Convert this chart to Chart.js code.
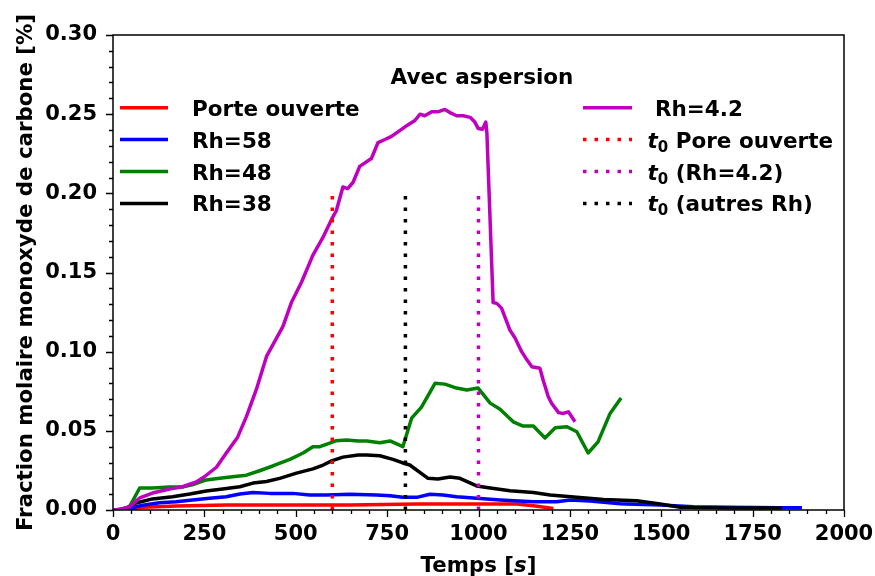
<!DOCTYPE html>
<html>
<head>
<meta charset="utf-8">
<script src="https://cdn.jsdelivr.net/npm/chart.js@4.4.1/dist/chart.umd.min.js"></script>
<style>
  body { margin: 0; background: #fff; }
  #wrap { width: 875px; height: 576px; }
</style>
</head>
<body>
<div id="wrap"><canvas id="chart" width="875" height="576"></canvas></div>
<script>
// CO molar fraction [%] vs time [s], with sprinkling
const tPorte = [0, 35, 81, 173, 310, 447, 648, 831, 1013, 1105, 1150, 1205];
const coPorte = [0, 0.0005, 0.0017, 0.0025, 0.0032, 0.0032, 0.0032, 0.0038, 0.0038, 0.0038, 0.0027, 0.001];

const tRh58 = [0, 35, 81, 127, 173, 218, 264, 310, 347, 383, 429, 492, 538, 584, 648, 721, 758, 793, 831, 867,
  903, 940, 995, 1059, 1150, 1214, 1251, 1305, 1388, 1406, 1497, 1588, 1680, 1826, 1885];
const coRh58 = [0, 0.0005, 0.003, 0.0046, 0.0052, 0.0063, 0.0074, 0.0084, 0.0101, 0.011, 0.0105, 0.0105, 0.0095,
  0.0095, 0.0099, 0.0095, 0.009, 0.008, 0.008, 0.0099, 0.0095, 0.0084, 0.0074, 0.0063, 0.0052, 0.0052, 0.0063,
  0.0057, 0.004, 0.0038, 0.0032, 0.0021, 0.0017, 0.0015, 0.0015];

const tRh48 = [0, 20, 45, 73, 108, 155, 190, 219, 255, 292, 327, 365, 401, 437, 484, 520, 547, 566, 593, 611,
  639, 671, 694, 730, 758, 793, 817, 844, 881, 908, 940, 968, 999, 1032, 1059, 1095, 1122, 1150, 1182, 1210,
  1242, 1269, 1300, 1327, 1360, 1390];
const coRh48 = [0, 0.0003, 0.002, 0.0139, 0.0139, 0.0145, 0.0145, 0.016, 0.019, 0.02, 0.021, 0.022, 0.0248, 0.0278,
  0.032, 0.036, 0.04, 0.04, 0.0423, 0.0438, 0.0442, 0.0436, 0.0436, 0.0425, 0.0436, 0.04, 0.058, 0.065, 0.08,
  0.0795, 0.077, 0.0758, 0.077, 0.0675, 0.0637, 0.0557, 0.053, 0.053, 0.0455, 0.052, 0.0526, 0.0494, 0.036,
  0.043, 0.061, 0.0707];

const tRh38 = [0, 30, 63, 108, 163, 210, 255, 300, 347, 383, 420, 456, 502, 547, 575, 598, 629, 671, 694, 730,
  766, 793, 812, 862, 889, 922, 949, 995, 1032, 1086, 1150, 1196, 1269, 1342, 1433, 1497, 1552, 1607, 1700, 1830];
const coRh38 = [0, 0.0005, 0.0044, 0.007, 0.0084, 0.0101, 0.012, 0.0133, 0.0147, 0.017, 0.018, 0.02, 0.0233, 0.026,
  0.0284, 0.031, 0.0334, 0.0347, 0.0347, 0.0343, 0.032, 0.0297, 0.0284, 0.02, 0.0196, 0.0208, 0.02, 0.0152,
  0.0139, 0.0122, 0.011, 0.0095, 0.008, 0.0067, 0.0059, 0.0038, 0.0017, 0.0015, 0.0012, 0.0012];

const tRh42 = [0, 20, 45, 73, 108, 155, 190, 228, 250, 283, 310, 341, 365, 392, 420, 465, 488, 516, 547, 574,
  599, 611, 629, 642, 657, 675, 707, 725, 744, 762, 799, 826, 840, 853, 872, 889, 908, 922, 940, 958, 977, 990,
  999, 1011, 1020, 1023, 1040, 1050, 1063, 1086, 1100, 1118, 1132, 1146, 1168, 1177, 1191, 1200, 1219, 1232,
  1246, 1264];
const coRh42 = [0, 0.0005, 0.002, 0.0076, 0.0107, 0.0133, 0.0147, 0.0177, 0.021, 0.027, 0.036, 0.046, 0.059, 0.076,
  0.097, 0.116, 0.131, 0.144, 0.161, 0.172, 0.184, 0.189, 0.204, 0.203, 0.207, 0.217, 0.222, 0.232, 0.234,
  0.236, 0.242, 0.246, 0.25, 0.249, 0.2515, 0.2515, 0.253, 0.251, 0.249, 0.249, 0.248, 0.245, 0.241, 0.2405,
  0.245, 0.238, 0.131, 0.1305, 0.1275, 0.1136, 0.1086, 0.1, 0.095, 0.0905, 0.0895, 0.082, 0.0715, 0.0674,
  0.0615, 0.061, 0.062, 0.0557];

// start-of-sprinkling markers
const t0Times = [600, 1000, 800];
const t0Labels = [' Pore ouverte', ' (Rh=4.2)', ' (autres Rh)'];
const t0Colors = ['#ff0000', '#bf00bf', '#000000'];
const t0Top = 0.20;

const series = [
  { label: 'Porte ouverte', t: tPorte, v: coPorte, color: '#ff0000' },
  { label: 'Rh=58', t: tRh58, v: coRh58, color: '#0000ff' },
  { label: 'Rh=48', t: tRh48, v: coRh48, color: '#008000' },
  { label: 'Rh=38', t: tRh38, v: coRh38, color: '#000000' },
  { label: ' Rh=4.2', t: tRh42, v: coRh42, color: '#bf00bf' },
];

const FONT = 'DejaVu Sans';
const datasets = [];
series.forEach(s => {
  datasets.push({
    label: s.label,
    data: s.t.map((t, i) => ({ x: t, y: s.v[i] })),
    borderColor: s.color,
    borderWidth: 3.5,
    borderJoinStyle: 'round',
    pointRadius: 0,
    tension: 0,
  });
});
t0Times.forEach((t, i) => {
  datasets.push({
    label: t0Labels[i],
    t0: true,
    data: [{ x: t, y: 0 }, { x: t, y: t0Top }],
    borderColor: t0Colors[i],
    borderWidth: 3.5,
    borderDash: [3.5, 8],
    borderCapStyle: 'butt',
    pointRadius: 0,
  });
});
// later datasets go on top
datasets.forEach((d, i) => { d.order = datasets.length - i; });

function drawT0(ctx, x, y, rest) {
  ctx.font = 'italic bold 21.5px "' + FONT + '"';
  ctx.fillText('t', x, y);
  x += ctx.measureText('t').width;
  ctx.font = 'bold 15px "' + FONT + '"';
  ctx.fillText('0', x, y + 4);
  x += ctx.measureText('0').width;
  ctx.font = 'bold 21.5px "' + FONT + '"';
  ctx.fillText(rest, x, y);
}

const decor = {
  id: 'decor',
  afterDraw(chart) {
    const ctx = chart.ctx;
    const { left, right, top, bottom } = chart.chartArea;
    const xs = chart.scales.x, ys = chart.scales.y;
    ctx.save();

    // frame
    ctx.strokeStyle = '#000';
    ctx.lineWidth = 1.5;
    ctx.strokeRect(left, top, right - left, bottom - top);

    // major / minor ticks
    ctx.lineWidth = 1.3;
    ctx.beginPath();
    for (let v = 0; v <= 2000; v += 50) {
      const px = Math.round(xs.getPixelForValue(v)) + 0.5;
      ctx.moveTo(px, bottom);
      ctx.lineTo(px, bottom + (v % 250 === 0 ? 7 : 4));
    }
    for (let i = 0; i <= 30; i++) {
      const py = Math.round(ys.getPixelForValue(i / 100)) + 0.5;
      ctx.moveTo(left, py);
      ctx.lineTo(left - (i % 5 === 0 ? 7 : 4), py);
    }
    ctx.stroke();

    ctx.fillStyle = '#000';
    ctx.textBaseline = 'alphabetic';

    // x axis title
    const bold = 'bold 21.3px "' + FONT + '"';
    const ital = 'italic bold 21.3px "' + FONT + '"';
    ctx.font = bold;
    const w1 = ctx.measureText('Temps [').width;
    const w3 = ctx.measureText(']').width;
    ctx.font = ital;
    const w2 = ctx.measureText('s').width;
    let x = (left + right) / 2 - (w1 + w2 + w3) / 2;
    ctx.textAlign = 'left';
    ctx.font = bold; ctx.fillText('Temps [', x, 572); x += w1;
    ctx.font = ital; ctx.fillText('s', x, 572); x += w2;
    ctx.font = bold; ctx.fillText(']', x, 572);

    // y axis title
    ctx.save();
    ctx.translate(32, (top + bottom) / 2);
    ctx.rotate(-Math.PI / 2);
    ctx.textAlign = 'center';
    ctx.font = bold;
    ctx.fillText('Fraction molaire monoxyde de carbone [%]', 0, 0);
    ctx.restore();

    // legend
    ctx.font = 'bold 21.5px "' + FONT + '"';
    ctx.textAlign = 'center';
    ctx.fillText('Avec aspersion', 482, 83.5);
    ctx.textAlign = 'left';
    const cols = [{ x0: 120, x1: 168, tx: 192 }, { x0: 583, x1: 632, tx: 647.5 }];
    chart.data.datasets.forEach((d, i) => {
      const col = cols[i < 4 ? 0 : 1];
      const row = i < 4 ? i : i - 4;
      const y = 107.7 + row * 31.9;
      ctx.save();
      ctx.strokeStyle = d.borderColor;
      ctx.lineWidth = d.borderWidth;
      ctx.lineCap = 'butt';
      ctx.setLineDash(d.borderDash || []);
      ctx.beginPath();
      ctx.moveTo(col.x0, y);
      ctx.lineTo(col.x1, y);
      ctx.stroke();
      ctx.restore();
      if (d.t0) {
        drawT0(ctx, col.tx, y + 8, d.label);
      } else {
        ctx.font = 'bold 21.5px "' + FONT + '"';
        ctx.fillText(d.label, col.tx, y + 8);
      }
    });
    ctx.restore();
  }
};

const tickFont = { family: FONT, weight: 'bold', size: 21 };

new Chart(document.getElementById('chart'), {
  type: 'line',
  data: { datasets },
  options: {
    responsive: false,
    animation: false,
    layout: { padding: { left: 0, top: 35, right: 31, bottom: 0 } },
    plugins: { legend: { display: false }, tooltip: { enabled: false } },
    scales: {
      x: {
        type: 'linear',
        min: 0,
        max: 2000,
        afterFit: s => { s.height = 66; s.paddingLeft = 0; s.paddingRight = 0; },
        grid: { display: false, drawTicks: false },
        border: { display: false },
        ticks: {
          stepSize: 250, maxRotation: 0, autoSkip: false, padding: 12, color: '#000', font: tickFont,
          callback: v => String(v),
        },
      },
      y: {
        min: 0,
        max: 0.30,
        afterFit: s => { s.width = 113; s.paddingTop = 0; s.paddingBottom = 0; },
        grid: { display: false, drawTicks: false },
        border: { display: false },
        ticks: {
          stepSize: 0.05, autoSkip: false, padding: 16, color: '#000', font: tickFont,
          callback: v => v.toFixed(2),
        },
      },
    },
  },
  plugins: [decor],
});
</script>
</body>
</html>
